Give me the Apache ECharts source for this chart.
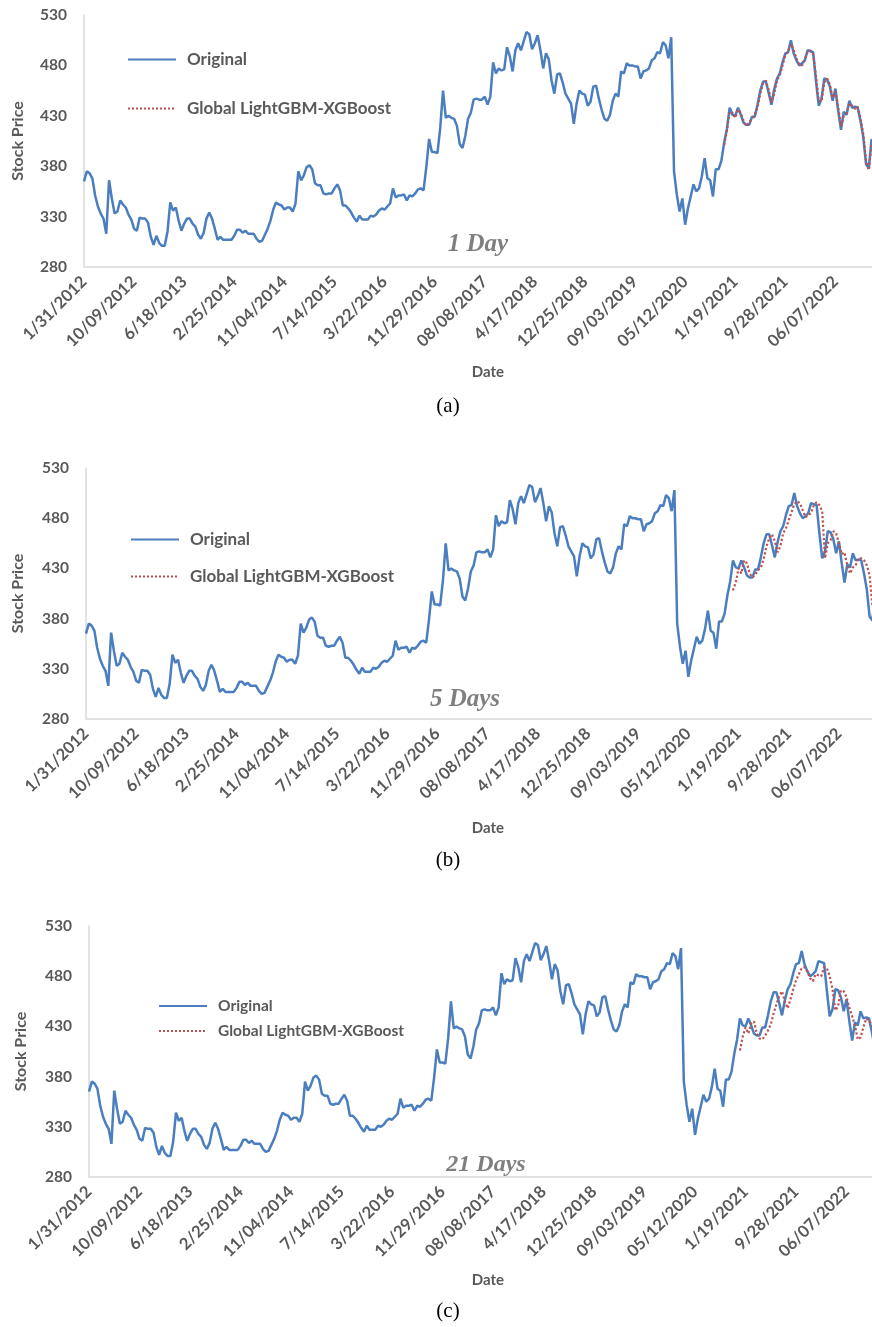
<!DOCTYPE html>
<html>
<head>
<meta charset="utf-8">
<script src="https://cdn.jsdelivr.net/npm/echarts@6/dist/echarts.min.js"></script>
<style>
  html, body { margin: 0; padding: 0; background: #ffffff; }
  #chart { width: 872px; height: 1327px; }
</style>
</head>
<body>
<div id="chart"></div>
<script>
// Closing price sampled every 14 calendar days from 1/31/2012
const startDate = '2012-01-31';
const stepDays = 14;
const tickStepDays = 252;

const tickLabels = ['1/31/2012', '10/09/2012', '6/18/2013', '2/25/2014', '11/04/2014', '7/14/2015',
  '3/22/2016', '11/29/2016', '08/08/2017', '4/17/2018', '12/25/2018', '09/03/2019',
  '05/12/2020', '1/19/2021', '9/28/2021', '06/07/2022'];
const yTicks = [280, 330, 380, 430, 480, 530];

const original = [
  365, 375, 373, 368, 351, 340, 333, 328, 313, 366,
  348, 333, 335, 346, 342, 339, 332, 327, 318, 316,
  329, 328, 328, 324, 310, 302, 311, 304, 301, 301,
  315, 344, 336, 339, 326, 316, 323, 328, 328, 323,
  320, 312, 308, 314, 328, 334, 328, 318, 307, 310,
  307, 307, 307, 307, 311, 317, 317, 314, 316, 313,
  313, 313, 308, 305, 306, 312, 318, 326, 337, 344,
  342, 341, 337, 339, 339, 335, 343, 375, 366, 371,
  379, 381, 377, 363, 361, 361, 353, 352, 353, 353,
  358, 362, 356, 341, 341, 338, 334, 329, 325, 331,
  327, 327, 327, 331, 330, 332, 336, 338, 337, 340,
  343, 358, 349, 351, 351, 352, 346, 351, 350, 353,
  357, 358, 356, 379, 407, 394, 394, 393, 418, 455,
  428, 430, 428, 427, 420, 402, 398, 410, 427, 433,
  446, 447, 446, 446, 449, 441, 449, 483, 472, 477,
  475, 476, 498, 489, 474, 495, 502, 495, 504, 513,
  511, 496, 502, 510, 495, 477, 492, 486, 465, 452,
  471, 472, 463, 452, 447, 442, 422, 442, 455, 452,
  451, 440, 444, 459, 460, 447, 436, 427, 425, 431,
  445, 452, 449, 474, 472, 482, 480, 480, 479, 479,
  467, 474, 475, 477, 485, 487, 493, 492, 503, 500,
  487, 508, 375, 352, 335, 348, 322, 338, 350, 362,
  355, 358, 370, 388, 368, 366, 350, 377, 377, 385,
  403, 417, 438, 431, 430, 438, 431, 423, 421, 421,
  429, 429, 441, 455, 464, 464, 453, 441, 456, 467,
  472, 483, 492, 493, 505, 492, 485, 480, 482, 485,
  495, 494, 493, 465, 440, 447, 467, 466, 459, 445,
  457, 435, 416, 434, 431, 445, 438, 439, 438, 425,
  409, 382, 378, 407
];

// Forecasts; each array begins at the given sample index of the original series
const forecast1DayStart = 230;
const forecast1Day = [
  401, 415, 434, 433, 428, 436, 433, 425, 420, 423,
  427, 431, 438, 452, 462, 465, 456, 443, 452, 465,
  470, 480, 490, 494, 501, 495, 487, 481, 480, 486,
  493, 495, 491, 470, 445, 444, 463, 467, 461, 448,
  454, 438, 420, 430, 433, 442, 440, 437, 439, 428,
  412, 386, 376, 402
];

const forecast5DayStart = 232;
const forecast5Day = [
  408, 416, 430, 425, 438, 435, 425, 421, 424, 428,
  431, 439, 452, 460, 464, 457, 446, 452, 465, 470,
  478, 486, 494, 497, 495, 488, 481, 483, 485, 493,
  496, 493, 487, 440, 455, 458, 467, 465, 455, 444,
  446, 433, 425, 431, 433, 440, 440, 438, 433, 423,
  393, 385
];

const forecast21DayStart = 232;
const forecast21Day = [
  406, 420, 429, 423, 433, 435, 423, 418, 417, 421,
  426, 432, 443, 452, 460, 465, 455, 448, 457, 467,
  476, 482, 488, 489, 485, 478, 475, 482, 481, 480,
  489, 488, 480, 467, 446, 450, 466, 465, 459, 449,
  440, 431, 417, 419, 429, 438, 436, 431, 430
];

const panelTitles = ['1 Day', '5 Days', '21 Days'];
const panelCaptions = ['(a)', '(b)', '(c)'];
const seriesNames = ['Original', 'Global LightGBM-XGBoost'];

const forecasts = [
  { start: forecast1DayStart, values: forecast1Day },
  { start: forecast5DayStart, values: forecast5Day },
  { start: forecast21DayStart, values: forecast21Day }
];

// Layout of the three stacked panels
const panels = [
  { left: 84, top: 15, height: 252, xMax: 3964,
    legendLeft: 127, legendTop: 51, legendGap: 32, legendFont: 17,
    titleX: 478, titleY: 245, titleSize: 25, dateY: 372, captionY: 406, yNameX: 18 },
  { left: 86, top: 468, height: 251, xMax: 3946,
    legendLeft: 130, legendTop: 531, legendGap: 20, legendFont: 17,
    titleX: 465, titleY: 700, titleSize: 25, dateY: 828, captionY: 860, yNameX: 18 },
  { left: 89, top: 926, height: 251, xMax: 3907,
    legendLeft: 158, legendTop: 998, legendGap: 9, legendFont: 15.5,
    titleX: 486, titleY: 1165, titleSize: 24, dateY: 1280, captionY: 1311, yNameX: 21 }
];

const BLUE = '#4a7ebf';
const RED = '#c0504d';
const GREY_TEXT = '#595959';
const AXIS_GREY = '#d9d9d9';
const SANS = 'Lato, "Open Sans", sans-serif';
const SERIF = '"Liberation Serif", "DejaVu Serif", serif';

const chart = echarts.init(document.getElementById('chart'), null, { renderer: 'canvas' });

const grids = [], xAxes = [], yAxes = [], series = [], legends = [], graphics = [];

panels.forEach((p, k) => {
  grids.push({ left: p.left, top: p.top, right: 0, height: p.height, containLabel: false });

  xAxes.push({
    type: 'value', gridIndex: k, min: 0, max: p.xMax,
    axisLine: { show: true, lineStyle: { color: AXIS_GREY, width: 1.5 } },
    axisTick: { show: false },
    splitLine: { show: false },
    axisLabel: {
      customValues: tickLabels.map((_, j) => j * tickStepDays),
      formatter: v => tickLabels[Math.round(v / tickStepDays)] || '',
      rotate: 45, margin: 12,
      color: GREY_TEXT, fontFamily: SANS, fontWeight: 'bold', fontSize: 16.5
    }
  });

  yAxes.push({
    type: 'value', gridIndex: k, min: 280, max: 530,
    axisLine: { show: true, lineStyle: { color: AXIS_GREY, width: 1.5 } },
    axisTick: { show: false },
    splitLine: { show: false },
    axisLabel: {
      customValues: yTicks, margin: 17,
      color: GREY_TEXT, fontFamily: SANS, fontWeight: 'bold', fontSize: 15.5
    }
  });

  series.push({
    type: 'line', name: seriesNames[0], xAxisIndex: k, yAxisIndex: k,
    data: original.map((v, i) => [i * stepDays, v]),
    symbol: 'none', showSymbol: false, clip: true,
    lineStyle: { color: BLUE, width: 2.5 }, itemStyle: { color: BLUE },
    z: 2
  });

  const fc = forecasts[k];
  series.push({
    type: 'line', name: seriesNames[1], xAxisIndex: k, yAxisIndex: k,
    data: fc.values.map((v, j) => [(fc.start + j) * stepDays, v]),
    symbol: 'none', showSymbol: false, clip: true,
    lineStyle: { color: RED, width: 2.2, type: 'dotted' }, itemStyle: { color: RED },
    z: 3
  });

  legends.push({
    orient: 'vertical', left: p.legendLeft, top: p.legendTop, padding: 0,
    itemWidth: 48, itemHeight: 20, itemGap: p.legendGap,
    selectedMode: false,
    itemStyle: { opacity: 0 },
    data: seriesNames.map(n => ({ name: n })),
    textStyle: {
      color: GREY_TEXT, fontFamily: SANS, fontWeight: 'bold', fontSize: p.legendFont,
      padding: [0, 0, 0, 6]
    }
  });

  // Vertical axis title
  graphics.push({
    type: 'text', x: p.yNameX, y: p.top + p.height / 2, rotation: Math.PI / 2,
    style: { text: 'Stock Price', align: 'center', verticalAlign: 'middle',
      fill: GREY_TEXT, fontFamily: SANS, fontWeight: 'bold', fontSize: 16 }
  });
  // Horizontal axis title
  graphics.push({
    type: 'text', x: 488, y: p.dateY,
    style: { text: 'Date', align: 'center', verticalAlign: 'middle',
      fill: GREY_TEXT, fontFamily: SANS, fontWeight: 'bold', fontSize: 15 }
  });
  // Forecast horizon label inside the plot
  graphics.push({
    type: 'text', x: p.titleX, y: p.titleY, z: 10,
    style: { text: panelTitles[k], align: 'center', verticalAlign: 'middle',
      fill: '#7f7f7f', fontFamily: SERIF, fontWeight: 'bold', fontStyle: 'italic', fontSize: p.titleSize }
  });
  // Sub-figure caption
  graphics.push({
    type: 'text', x: 448, y: p.captionY,
    style: { text: panelCaptions[k], align: 'center', verticalAlign: 'middle',
      fill: '#000000', fontFamily: SERIF, fontSize: 21 }
  });
});

chart.setOption({
  animation: false,
  backgroundColor: '#ffffff',
  grid: grids,
  xAxis: xAxes,
  yAxis: yAxes,
  legend: legends,
  series: series,
  graphic: graphics
});
</script>
</body>
</html>
